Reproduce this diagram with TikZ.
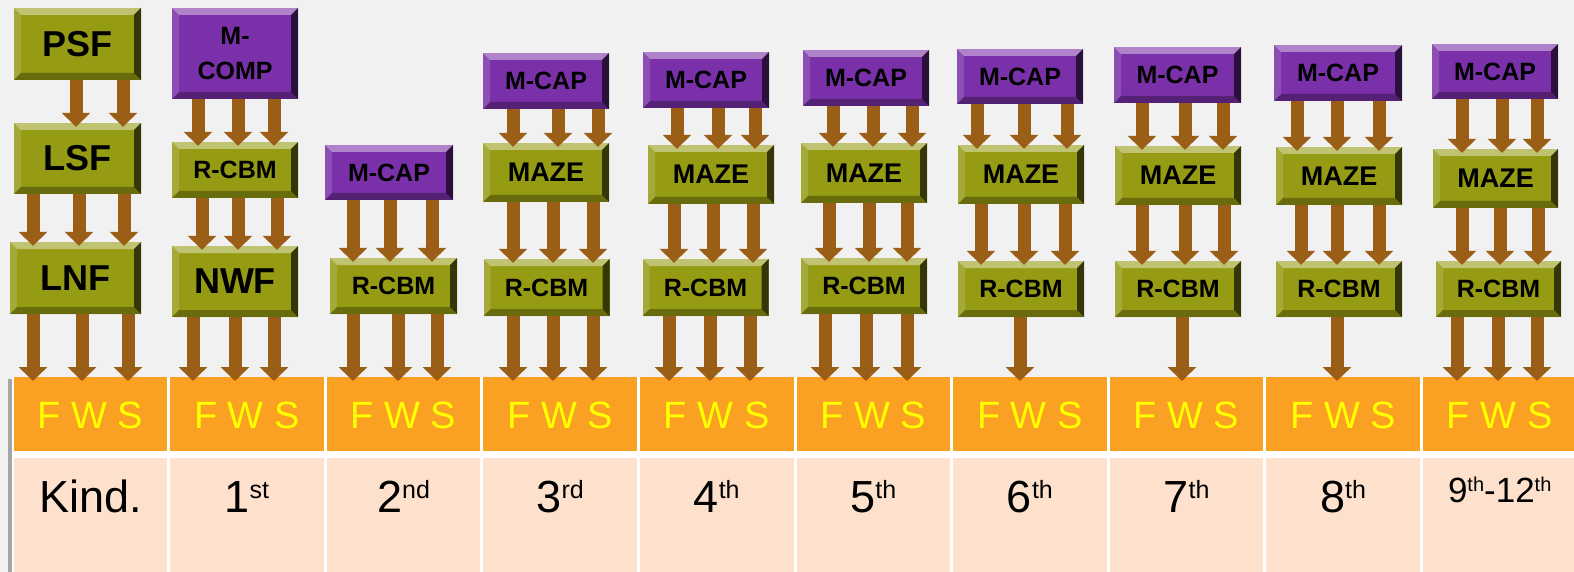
\documentclass[tikz,border=0pt]{standalone}
\usepackage{fontspec}
\setmainfont{Liberation Sans}
\usetikzlibrary{arrows.meta}

\definecolor{bggray}{RGB}{241,241,241}
\definecolor{oliveface}{RGB}{150,155,20}
\definecolor{purpleface}{RGB}{122,48,168}
\definecolor{arrowbrown}{RGB}{155,94,22}
\definecolor{fwsorange}{RGB}{250,160,35}
\definecolor{gradepeach}{RGB}{253,225,205}
\definecolor{fwsyellow}{RGB}{255,255,0}

\newcommand{\ordsup}[2][25]{\raisebox{0.3em}{\fontsize{#1}{#1}\selectfont #2}}

\tikzset{
  bevel/.style={path picture={
      \path (path picture bounding box.north west) coordinate (tl)
            (path picture bounding box.north east) coordinate (tr)
            (path picture bounding box.south east) coordinate (br)
            (path picture bounding box.south west) coordinate (bl);
      \fill[white,opacity=.4] (tl) -- (tr) -- ([shift={(-7pt,-7pt)}]tr) -- ([shift={(7pt,-7pt)}]tl) -- cycle;
      \fill[white,opacity=.15] (tl) -- ([shift={(7pt,-7pt)}]tl) -- ([shift={(7pt,7pt)}]bl) -- (bl) -- cycle;
      \fill[black,opacity=.3] (bl) -- ([shift={(7pt,7pt)}]bl) -- ([shift={(-7pt,7pt)}]br) -- (br) -- cycle;
      \fill[black,opacity=.65] (br) -- ([shift={(-7pt,7pt)}]br) -- ([shift={(-7pt,-7pt)}]tr) -- (tr) -- cycle;
  }},
  box/.style={bevel, inner sep=0pt, minimum width=126pt, minimum height=56pt,
    font=\bfseries\fontsize{25}{35}\selectfont, align=center},
  olivebox/.style={box, fill=oliveface},
  purplebox/.style={box, fill=purpleface, minimum height=55pt},
  mazebox/.style={olivebox, minimum height=59pt, font=\bfseries\fontsize{27}{30}\selectfont},
  bigbox/.style={olivebox, minimum width=127pt, minimum height=72pt, font=\bfseries\fontsize{36}{40}\selectfont},
  flow/.style={draw=arrowbrown, line width=13pt, -{Triangle[length=14pt,width=28pt]}, shorten >=-4pt},
  fwscell/.style={anchor=north, fill=fwsorange, inner sep=0pt, minimum width=153.6pt,
    text height=51pt, text depth=23pt, text=fwsyellow, font=\fontsize{38}{40}\selectfont},
  gradecell/.style={anchor=north, fill=gradepeach, inner sep=0pt, minimum width=153.6pt,
    text height=54pt, text depth=60pt, font=\fontsize{45}{50}\selectfont}
}

\begin{document}
\begin{tikzpicture}[x=1pt,y=-1pt]
\useasboundingbox (0,0) rectangle (1574,572);
\fill[bggray] (0,0) rectangle (1574,572);

% table with shadow
\fill[black!35] (8,379) rectangle (1574,572);
\fill[white] (12,377) rectangle (1574,572);
\foreach \i in {0,...,9}
  \node[fwscell] (fws\i) at ({12+156.6*\i+78.3},377) {F W S};
\foreach \i/\lab in {0/Kind., 1/1\ordsup{st}, 2/2\ordsup{nd}, 3/3\ordsup{rd}, 4/4\ordsup{th},
    5/5\ordsup{th}, 6/6\ordsup{th}, 7/7\ordsup{th}, 8/8\ordsup{th}}
  \node[gradecell] (grade\i) at ({12+156.6*\i+78.3},458) {\lab};
\node[gradecell] (grade9) at ({12+156.6*9+78.3},458)
  {\fontsize{35}{40}\selectfont\raisebox{10pt}{9\ordsup[20]{th}-12\ordsup[20]{th}}};

% Kind.
\node[bigbox] (psf) at (77.5,44) {PSF};
\node[bigbox,minimum height=71pt] (lsf) at (77.5,158.5) {LSF};
\node[bigbox,minimum width=131pt] (lnf) at (75.5,278) {LNF};
\foreach \x in {76,123} \draw[flow] (\x,0 |- psf.south) -- (\x,0 |- lsf.north);
\foreach \x in {33,79,124} \draw[flow] (\x,0 |- lsf.south) -- (\x,0 |- lnf.north);
\foreach \x in {33,82,128} \draw[flow] (\x,0 |- lnf.south) -- (\x,0 |- fws0.north);

% 1st
\node[purplebox,minimum height=91pt] (mcomp) at (235,53.5) {M-\\COMP};
\node[olivebox] (rcbm1) at (235,170) {R-CBM};
\node[bigbox,minimum width=126pt,minimum height=71pt] (nwf) at (235,281.5) {NWF};
\foreach \x in {198,238,274} \draw[flow] (\x,0 |- mcomp.south) -- (\x,0 |- rcbm1.north);
\foreach \x in {202,238,277} \draw[flow] (\x,0 |- rcbm1.south) -- (\x,0 |- nwf.north);
\foreach \x in {193,235,274} \draw[flow] (\x,0 |- nwf.south) -- (\x,0 |- fws1.north);

% 2nd
\node[purplebox,minimum width=128pt] (mcap2) at (389,172.5) {M-CAP};
\node[olivebox,minimum width=127pt] (rcbm2) at (393.5,286) {R-CBM};
\foreach \x in {353,390,432} \draw[flow] (\x,0 |- mcap2.south) -- (\x,0 |- rcbm2.north);
\foreach \x in {353,398,437} \draw[flow] (\x,0 |- rcbm2.south) -- (\x,0 |- fws2.north);

% 3rd
\node[purplebox,minimum height=56pt] (mcap3) at (546,81) {M-CAP};
\node[mazebox] (maze3) at (546,172.5) {MAZE};
\node[olivebox,minimum height=57pt] (rcbm3) at (546.5,287.5) {R-CBM};
\foreach \x in {513,558,598} \draw[flow] (\x,0 |- mcap3.south) -- (\x,0 |- maze3.north);
\foreach \x in {513,553,593} \draw[flow] (\x,0 |- maze3.south) -- (\x,0 |- rcbm3.north);
\foreach \x in {513,553,593} \draw[flow] (\x,0 |- rcbm3.south) -- (\x,0 |- fws3.north);

% 4th
\node[purplebox,minimum height=56pt] (mcap4) at (706,80) {M-CAP};
\node[mazebox] (maze4) at (711,174.5) {MAZE};
\node[olivebox,minimum height=57pt] (rcbm4) at (705.5,287.5) {R-CBM};
\foreach \x in {677,718,755} \draw[flow] (\x,0 |- mcap4.south) -- (\x,0 |- maze4.north);
\foreach \x in {674,713,753} \draw[flow] (\x,0 |- maze4.south) -- (\x,0 |- rcbm4.north);
\foreach \x in {669,710,750} \draw[flow] (\x,0 |- rcbm4.south) -- (\x,0 |- fws4.north);

% 5th
\node[purplebox,minimum height=56pt] (mcap5) at (866,78) {M-CAP};
\node[mazebox,minimum height=60pt] (maze5) at (864,173) {MAZE};
\node[olivebox] (rcbm5) at (864,286) {R-CBM};
\foreach \x in {833,873,912} \draw[flow] (\x,0 |- mcap5.south) -- (\x,0 |- maze5.north);
\foreach \x in {829,869,907} \draw[flow] (\x,0 |- maze5.south) -- (\x,0 |- rcbm5.north);
\foreach \x in {825,866,907} \draw[flow] (\x,0 |- rcbm5.south) -- (\x,0 |- fws5.north);

% 6th
\node[purplebox] (mcap6) at (1020,76.5) {M-CAP};
\node[mazebox] (maze6) at (1021,174.5) {MAZE};
\node[olivebox] (rcbm6) at (1021,289) {R-CBM};
\foreach \x in {977,1024,1067} \draw[flow] (\x,0 |- mcap6.south) -- (\x,0 |- maze6.north);
\foreach \x in {981,1024,1065} \draw[flow] (\x,0 |- maze6.south) -- (\x,0 |- rcbm6.north);
\draw[flow] (1020,0 |- rcbm6.south) -- (1020,0 |- fws6.north);

% 7th
\node[purplebox,minimum width=127pt,minimum height=56pt] (mcap7) at (1177.5,75) {M-CAP};
\node[mazebox] (maze7) at (1178,175.5) {MAZE};
\node[olivebox] (rcbm7) at (1178,289) {R-CBM};
\foreach \x in {1142,1185,1223} \draw[flow] (\x,0 |- mcap7.south) -- (\x,0 |- maze7.north);
\foreach \x in {1142,1185,1224} \draw[flow] (\x,0 |- maze7.south) -- (\x,0 |- rcbm7.north);
\draw[flow] (1182,0 |- rcbm7.south) -- (1182,0 |- fws7.north);

% 8th
\node[purplebox,minimum width=128pt,minimum height=56pt] (mcap8) at (1338,73) {M-CAP};
\node[mazebox,minimum height=58pt] (maze8) at (1339,176) {MAZE};
\node[olivebox] (rcbm8) at (1339,289) {R-CBM};
\foreach \x in {1297,1337,1379} \draw[flow] (\x,0 |- mcap8.south) -- (\x,0 |- maze8.north);
\foreach \x in {1301,1337,1379} \draw[flow] (\x,0 |- maze8.south) -- (\x,0 |- rcbm8.north);
\draw[flow] (1337,0 |- rcbm8.south) -- (1337,0 |- fws8.north);

% 9th-12th
\node[purplebox] (mcap9) at (1495,71.5) {M-CAP};
\node[mazebox,minimum width=125pt] (maze9) at (1495.5,178.5) {MAZE};
\node[olivebox,minimum width=125pt] (rcbm9) at (1498.5,289) {R-CBM};
\foreach \x in {1462,1502,1537} \draw[flow] (\x,0 |- mcap9.south) -- (\x,0 |- maze9.north);
\foreach \x in {1462,1500,1538} \draw[flow] (\x,0 |- maze9.south) -- (\x,0 |- rcbm9.north);
\foreach \x in {1457,1498,1537} \draw[flow] (\x,0 |- rcbm9.south) -- (\x,0 |- fws9.north);
\end{tikzpicture}
\end{document}
